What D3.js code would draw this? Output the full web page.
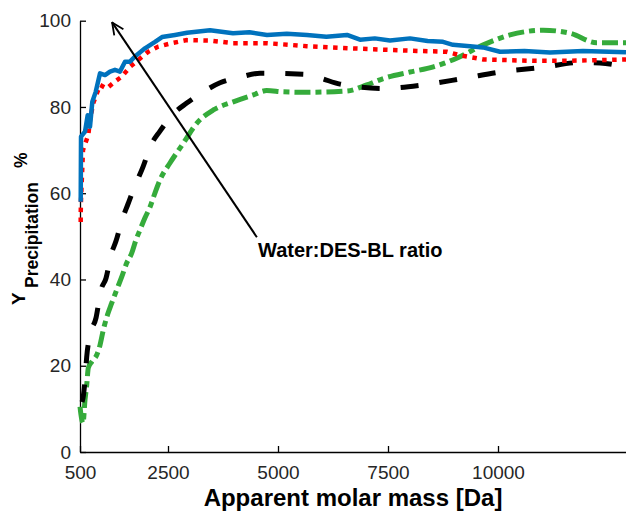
<!DOCTYPE html>
<html>
<head>
<meta charset="utf-8">
<script src="https://cdn.jsdelivr.net/npm/d3@7.9.0/dist/d3.min.js"></script>
<style>
  body { margin: 0; background: #fff; }
  svg { display: block; font-family: Arial, "Liberation Sans", sans-serif; }
</style>
</head>
<body>
<svg id="chart" width="626" height="514"></svg>
<script>
// values
const xTicks = [500, 2500, 5000, 7500, 10000];
const yTicks = [0, 20, 40, 60, 80, 100];

const blueX = [516, 523, 614, 675, 727, 780, 857, 955, 1068, 1182, 1295, 1409, 1523, 1636, 1750, 1977, 2205, 2364, 2659, 2932, 3455, 3977, 4350, 4750, 5200, 5659, 6100, 6568, 6864, 7200, 7545, 8000, 8400, 8750, 8977, 9364, 9659, 10045, 10600, 11182, 11932, 12909];
const blueY = [58.0, 73.1, 74.3, 78.1, 75.4, 81.2, 83.5, 87.8, 87.4, 88.2, 88.6, 88.2, 90.5, 90.5, 91.7, 93.6, 95.1, 96.2, 96.7, 97.2, 97.8, 97.1, 97.3, 96.7, 97.0, 96.7, 96.3, 96.7, 95.6, 95.9, 95.4, 95.9, 95.3, 95.1, 94.4, 94.1, 93.8, 92.8, 93.0, 92.6, 93.0, 92.7];

const redX = [516, 516, 523, 568, 689, 727, 802, 955, 1107, 1295, 1448, 1636, 1825, 2052, 2280, 2584, 2925, 3455, 3977, 4743, 5652, 6636, 7614, 8152, 8834, 9136, 9666, 10802, 11561, 12909];
const redY = [53.3, 55.3, 58.4, 70.0, 73.5, 77.0, 80.9, 85.1, 84.3, 85.9, 87.0, 89.3, 90.9, 92.8, 94.0, 94.8, 95.5, 95.4, 94.8, 94.8, 94.1, 93.6, 93.2, 93.0, 92.8, 92.0, 91.0, 90.7, 90.7, 91.0];

const blackX = [545, 568, 614, 652, 727, 864, 977, 1091, 1205, 1318, 1455, 1591, 1750, 1932, 2114, 2318, 2591, 2925, 3227, 3682, 4136, 4591, 5568, 5955, 6409, 7386, 8295, 9205, 10114, 11023, 11864, 12318, 12909];
const blackY = [11.6, 12.5, 16.7, 22.0, 27.1, 31.1, 37.6, 40.3, 45.7, 48.9, 53.8, 57.5, 61.7, 66.1, 71.2, 74.4, 78.1, 80.9, 83.0, 85.6, 86.9, 87.8, 87.6, 86.7, 85.3, 84.3, 85.1, 86.6, 88.2, 89.2, 90.3, 90.2, 89.2];

const greenX = [500, 523, 568, 614, 652, 689, 766, 880, 955, 1030, 1125, 1220, 1334, 1448, 1561, 1675, 1773, 1864, 1977, 2091, 2205, 2318, 2545, 2848, 3152, 3530, 3984, 4439, 4743, 5120, 5652, 6561, 7016, 7393, 8000, 8530, 9061, 9666, 10273, 11030, 11636, 12243, 12909];
const greenY = [10.5, 8.6, 6.7, 12.1, 15.5, 19.5, 20.9, 22.5, 24.8, 28.3, 31.8, 34.5, 37.6, 40.6, 43.8, 46.1, 49.2, 51.5, 54.3, 56.8, 60.1, 63.1, 67.0, 71.6, 76.2, 79.3, 81.2, 82.8, 83.8, 83.5, 83.4, 83.7, 85.1, 86.6, 88.1, 89.3, 91.3, 94.4, 96.7, 97.8, 97.1, 94.9, 94.9];

// annotation: arrow from / to, in data units
const arrowFrom = [4520, 49.8];
const arrowTo = [1230, 99.6];

const svg = d3.select('#chart');

const x = d3.scaleLinear().domain([500, 12909]).range([80, 626]);
const y = d3.scaleLinear().domain([0, 100]).range([452, 20.7]);

const tickFont = g => g.selectAll('.tick text')
  .attr('font-size', 19).attr('fill', '#262626')
  .attr('font-family', 'Arial, "Liberation Sans", sans-serif');

// axes (ticks point inward, no box)
svg.append('g')
  .attr('class', 'x-axis')
  .attr('transform', 'translate(0,452)')
  .call(d3.axisBottom(x).tickValues(xTicks).tickFormat(d3.format('d'))
    .tickSize(-6).tickSizeOuter(0).tickPadding(14))
  .call(g => g.select('.domain').attr('stroke-width', 1.3))
  .call(g => g.selectAll('.tick line').attr('stroke-width', 1.3))
  .call(tickFont);

svg.append('g')
  .attr('class', 'y-axis')
  .attr('transform', 'translate(80,0)')
  .call(d3.axisLeft(y).tickValues(yTicks).tickFormat(d3.format('d'))
    .tickSize(-6).tickSizeOuter(0).tickPadding(9))
  .call(g => g.select('.domain').attr('stroke-width', 1.3))
  .call(g => g.selectAll('.tick line').attr('stroke-width', 1.3))
  .call(tickFont);

function zip(xs, ys) { return xs.map((v, i) => [v, ys[i]]); }

const lineLin = d3.line().x(d => x(d[0])).y(d => y(d[1]));
const lineSmooth = d3.line().x(d => x(d[0])).y(d => y(d[1])).curve(d3.curveMonotoneX);

svg.append('path').datum(zip(greenX, greenY))
  .attr('d', lineSmooth).attr('fill', 'none')
  .attr('stroke', '#35ab3b').attr('stroke-width', 5)
  .attr('stroke-dasharray', '16,5,6,5');

svg.append('path').datum(zip(blackX, blackY))
  .attr('d', lineSmooth).attr('fill', 'none')
  .attr('stroke', '#000').attr('stroke-width', 5)
  .attr('stroke-dasharray', '18,21');

svg.append('path').datum(zip(redX, redY))
  .attr('d', lineLin).attr('fill', 'none')
  .attr('stroke', '#ff0000').attr('stroke-width', 4.5)
  .attr('stroke-dasharray', '4.5,5.5');

svg.append('path').datum(zip(blueX, blueY))
  .attr('d', lineLin).attr('fill', 'none')
  .attr('stroke', '#0072bd').attr('stroke-width', 4.5)
  .attr('stroke-linejoin', 'round');

// annotation arrow
svg.append('defs').append('marker')
  .attr('id', 'head').attr('viewBox', '0 0 14 14')
  .attr('refX', 13).attr('refY', 7)
  .attr('markerWidth', 14).attr('markerHeight', 14)
  .attr('markerUnits', 'userSpaceOnUse').attr('orient', 'auto')
  .append('path').attr('d', 'M1,1.5 L13,7 L1,12.5')
  .attr('fill', 'none').attr('stroke', '#000').attr('stroke-width', 1.8);

svg.append('line')
  .attr('x1', x(arrowFrom[0])).attr('y1', y(arrowFrom[1]))
  .attr('x2', x(arrowTo[0])).attr('y2', y(arrowTo[1]))
  .attr('stroke', '#000').attr('stroke-width', 2)
  .attr('marker-end', 'url(#head)');

svg.append('text')
  .attr('x', 258).attr('y', 257)
  .attr('font-size', 20).attr('font-weight', 'bold')
  .text('Water:DES-BL ratio');

// axis titles
svg.append('text')
  .attr('x', 353).attr('y', 506)
  .attr('text-anchor', 'middle')
  .attr('font-size', 24).attr('font-weight', 'bold')
  .text('Apparent molar mass [Da]');

const yl = svg.append('g').attr('transform', 'rotate(-90)').attr('font-weight', 'bold');
yl.append('text').attr('x', -305).attr('y', 25).attr('font-size', 19).text('Y');
yl.append('text').attr('x', -288).attr('y', 38).attr('font-size', 17.5).text('Precipitation');
yl.append('text').attr('x', -168).attr('y', 27).attr('font-size', 17.5).text('%');
</script>
</body>
</html>
